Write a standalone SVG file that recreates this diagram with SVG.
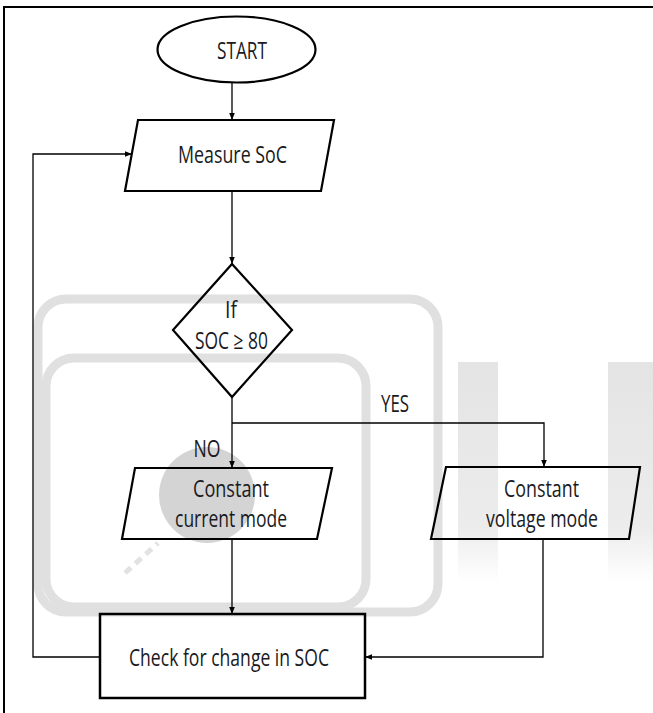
<svg xmlns="http://www.w3.org/2000/svg" width="653" height="713" viewBox="0 0 653 713">
<defs>
<marker id="ah" viewBox="0 0 10 10" refX="10" refY="5" markerWidth="7" markerHeight="7" markerUnits="userSpaceOnUse" orient="auto"><path d="M0,1 L10,5 L0,9 z" fill="#000"/></marker>
<linearGradient id="fade" x1="0" y1="0" x2="0" y2="1"><stop offset="0" stop-color="#e4e4e4"/><stop offset="0.75" stop-color="#ececec"/><stop offset="1" stop-color="#ffffff"/></linearGradient>
</defs>
<style>
.shape{fill:none;stroke:#000;stroke-width:2.2}
.conn{fill:none;stroke:#000;stroke-width:1.3}
text{font-family:"Open Sans","Liberation Sans",sans-serif;font-size:24px;fill:#1a1a22;text-anchor:middle}
.wm{fill:none;stroke:#e0e0e0;stroke-width:9}
</style>
<rect width="653" height="713" fill="#fff"/>
<g id="watermark">
<rect x="38" y="299" width="400" height="313" rx="28" class="wm"/>
<rect x="46" y="358" width="320" height="249" rx="28" class="wm"/>
<rect x="458" y="362" width="40" height="220" fill="url(#fade)"/>
<rect x="608" y="362" width="45" height="220" fill="url(#fade)"/>
<circle cx="207" cy="495" r="48" fill="#d4d4d4"/>
<path d="M125,573 L158,543" stroke="#e2e2e2" stroke-width="5" stroke-dasharray="8,6"/>
</g>
<path d="M4,713 V7 H653" fill="none" stroke="#000" stroke-width="2"/>
<g id="connectors">
<path class="conn" d="M232,83 V120" marker-end="url(#ah)"/>
<path class="conn" d="M232,191 V264" marker-end="url(#ah)"/>
<path class="conn" d="M232,397 V468" marker-end="url(#ah)"/>
<path class="conn" d="M232,423 H544 V467" marker-end="url(#ah)"/>
<path class="conn" d="M232,539 V614" marker-end="url(#ah)"/>
<path class="conn" d="M543,539 V657 H365" marker-end="url(#ah)"/>
<path class="conn" d="M100,657 H33 V154 H132" marker-end="url(#ah)"/>
<text x="395" y="412" textLength="28" lengthAdjust="spacingAndGlyphs">YES</text>
<text x="207" y="457" textLength="27" lengthAdjust="spacingAndGlyphs">NO</text>
</g>
<g id="start">
<ellipse class="shape" cx="236.5" cy="49.5" rx="79" ry="33"/>
<text x="242" y="59" textLength="50" lengthAdjust="spacingAndGlyphs">START</text>
</g>
<g id="measure">
<polygon class="shape" points="138,120 334,120 321,191 125,191"/>
<text x="232.5" y="163" textLength="109" lengthAdjust="spacingAndGlyphs">Measure SoC</text>
</g>
<g id="decision">
<polygon class="shape" points="232,264 292,330 232,397 173,330"/>
<text x="231" y="318" textLength="12" lengthAdjust="spacingAndGlyphs">If</text>
<text x="231.5" y="349" textLength="73" lengthAdjust="spacingAndGlyphs">SOC ≥ 80</text>
</g>
<g id="current">
<polygon class="shape" points="135,468 332,468 317,539 122,539"/>
<text x="231" y="497" textLength="76" lengthAdjust="spacingAndGlyphs">Constant</text>
<text x="231" y="527" textLength="112" lengthAdjust="spacingAndGlyphs">current mode</text>
</g>
<g id="voltage">
<polygon class="shape" points="446,467 640,467 629,539 431,539"/>
<text x="541.5" y="497" textLength="75" lengthAdjust="spacingAndGlyphs">Constant</text>
<text x="542" y="527" textLength="112" lengthAdjust="spacingAndGlyphs">voltage mode</text>
</g>
<g id="check">
<rect class="shape" x="100" y="614" width="265" height="84" style="stroke-width:2.5"/>
<text x="229" y="666" textLength="200" lengthAdjust="spacingAndGlyphs">Check for change in SOC</text>
</g>
</svg>
